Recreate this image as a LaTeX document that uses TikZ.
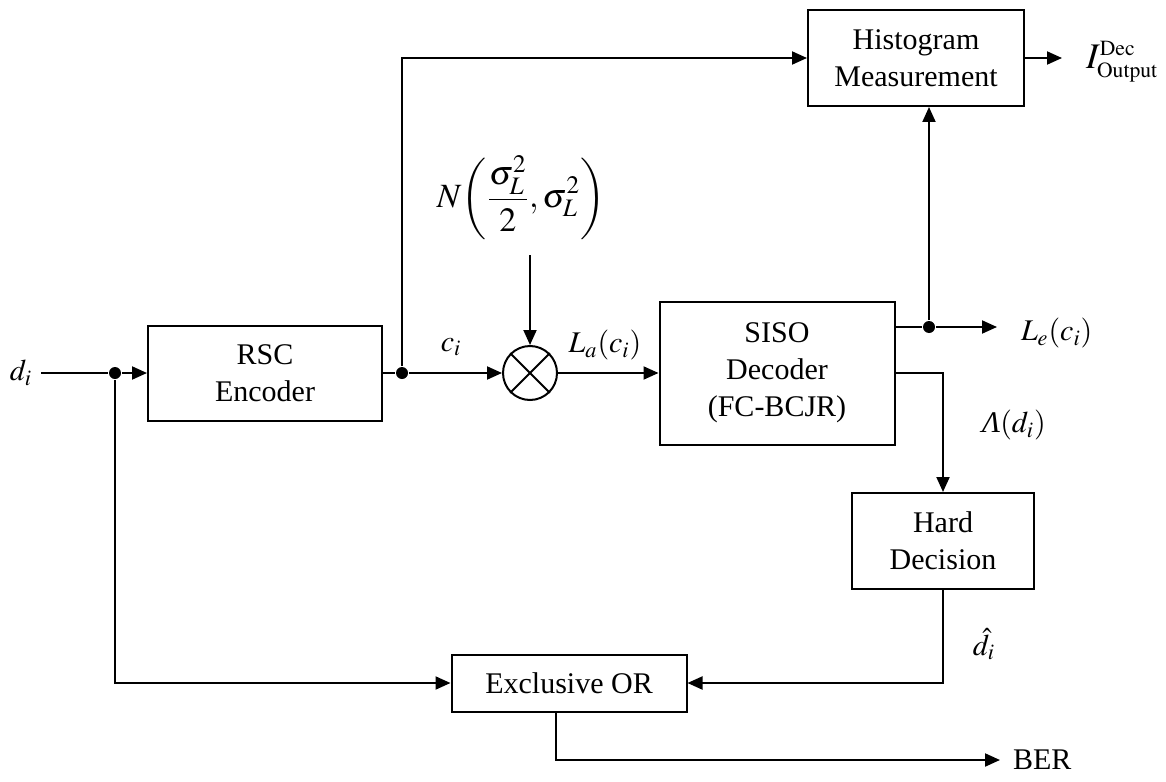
\documentclass[tikz,border=0pt]{standalone}
\usepackage{mathptmx}
\usepackage{fontspec}
\setmainfont{Liberation Serif}
\usetikzlibrary{arrows.meta,calc,positioning}
\tikzset{
  >={Triangle[length=7.5pt,width=6.5pt]},
  line cap=butt,
  every picture/.style={line width=1pt},
  block/.style={draw, inner sep=0pt, align=center, font=\fontsize{15}{18.5}\selectfont},
  mixer/.style={draw, circle, inner sep=0pt, minimum size=27pt},
  junction/.style={circle, fill, inner sep=0pt, minimum size=6pt},
  lbl/.style={inner sep=0pt, font=\fontsize{15}{18}\selectfont},
  arrow/.style={->}
}

\begin{document}
\begin{tikzpicture}[x=0.5pt, y=-0.5pt]
\useasboundingbox (0,0) rectangle (1166,781);

% blocks
\node[block, minimum width=117pt, minimum height=47.5pt] (rsc) at (265,373) {RSC\\Encoder};
\node[block, minimum width=108pt, minimum height=48pt] (hist) at (916,58) {Histogram\\Measurement};
\node[block, minimum width=117.5pt, minimum height=71.5pt] (siso) at (777,373) {SISO\\Decoder\\(FC-BCJR)};
\node[block, minimum width=91pt, minimum height=48pt] (hard) at (943,541) {Hard\\Decision};
\node[block, minimum width=117.5pt, minimum height=28.5pt] (xor) at (569,683) {Exclusive OR};
\node[mixer] (mix) at (530,373) {};
\draw (mix.north west) -- (mix.south east);
\draw (mix.north east) -- (mix.south west);

% junctions
\node[junction] (j1) at (115,373) {};
\node[junction] (j2) at (402,373) {};
\node[junction] (j3) at (929,327) {};
\coordinate (nz) at (530,255);

% labels
\node[lbl] (di) at (21,373) {$d_i$};
\node[lbl] (ci) at (451,347) {$c_i$};
\node[lbl] (la) at (605,345) {$L_a(c_i)$};
\node[lbl, font=\fontsize{17}{19}\selectfont] (noise) at (521,198) {$\displaystyle N\!\left(\frac{\sigma_L^2}{2},\sigma_L^2\right)$};
\node[lbl, anchor=west] (le) at (1020,333) {$L_e(c_i)$};
\node[lbl, anchor=west, font=\fontsize{18}{19}\selectfont] (iout) at (1085,62) {$I^{\scriptscriptstyle\mathrm{Dec}}_{\scriptscriptstyle\mathrm{Output}}$};
\node[lbl] (lam) at (1014,425) {\textit{Λ}$\left(d_i\right)$};
\node[lbl] (dhat) at (984,644) {$\hat{d}_i$};
\node[lbl, anchor=west] (ber) at (1012,760) {BER};

% connectors
\draw[shorten <=4pt] (di) -- (j1);
\draw[arrow] (j1) -- (rsc);
\draw (rsc) -- (j2);
\draw[arrow] (j2) -- (mix);
\draw[arrow] (j2) |- (hist.west);
\draw[arrow] (nz) -- (mix);
\draw[arrow] (mix) -- (siso);
\draw (siso.east |- j3) -- (j3);
\draw[arrow, shorten >=11.5pt] (j3) -- (le.west |- j3);
\draw[arrow] (j3) -- (j3 |- hist.south);
\draw[arrow, shorten >=11.5pt] (hist.east) -- (iout.west |- hist.east);
\draw[arrow] (siso.east) -| (hard.north);
\draw[arrow] (hard.south) |- (xor.east);
\draw[arrow] (j1) |- (xor.west);
\draw[arrow, shorten >=6pt] ([xshift=-6.5pt]xor.south) |- (ber.west);

\end{tikzpicture}
\end{document}
